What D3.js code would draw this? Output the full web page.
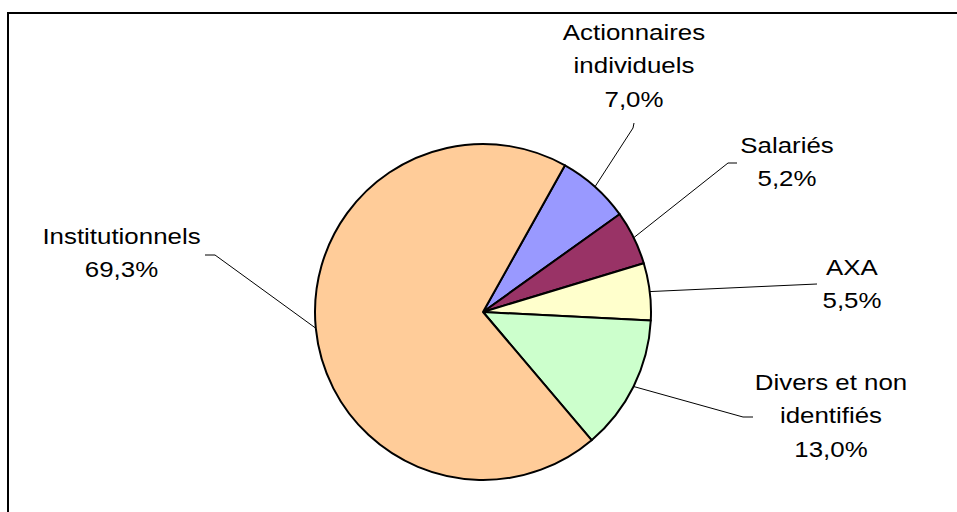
<!DOCTYPE html>
<html>
<head>
<meta charset="utf-8">
<script src="https://cdn.jsdelivr.net/npm/d3@7"></script>
<style>
  html, body { margin: 0; padding: 0; background: #fff; }
  svg { display: block; }
  text { font-family: "Liberation Sans", Arial, sans-serif; fill: #000; }
</style>
</head>
<body>
<div id="chart"></div>
<script>
// ---- data ----
const categories = ["Actionnaires individuels", "Salariés", "AXA", "Divers et non identifiés", "Institutionnels"];
const labelLines = [["Actionnaires", "individuels"], ["Salariés"], ["AXA"], ["Divers et non", "identifiés"], ["Institutionnels"]];
const values = [7.0, 5.2, 5.5, 13.0, 69.3];
const colors = ["#9999FF", "#993366", "#FFFFCC", "#CCFFCC", "#FFCC99"];

// ---- layout ----
const W = 957, H = 512;
const cx = 483, cy = 312, R = 168;
const startDeg = 29.2;
// label block: x center, first baseline; leader elbow points (outer end first)
const labelLayout = [
  { x: 634, y: 40, leader: [[634, 123], [633, 128]] },
  { x: 787, y: 153, leader: [[737, 163], [728, 163]] },
  { x: 852, y: 275, leader: [[817, 284]] },
  { x: 831, y: 390, leader: [[753, 417], [743, 417]] },
  { x: 121.5, y: 244, leader: [[205, 255], [215, 255]] }
];
const lineH = 33.5;
const fontSize = 22.5;
const stretch = 1.15;

const svg = d3.select("#chart").append("svg").attr("width", W).attr("height", H);

// frame
svg.append("rect")
  .attr("x", 8).attr("y", 13).attr("width", 980).attr("height", 560)
  .attr("fill", "none").attr("stroke", "#000").attr("stroke-width", 2);

const data = categories.map((c, i) => ({ name: c, value: values[i], color: colors[i], lines: labelLines[i], layout: labelLayout[i] }));

const a0 = startDeg * Math.PI / 180;
const pie = d3.pie().value(d => d.value).sort(null).startAngle(a0).endAngle(a0 + 2 * Math.PI);
const arcs = pie(data);
const arc = d3.arc().innerRadius(0).outerRadius(R);

const g = svg.append("g").attr("transform", `translate(${cx},${cy})`);
g.selectAll("path.slice").data(arcs).enter().append("path")
  .attr("class", "slice")
  .attr("d", arc)
  .attr("fill", d => d.data.color)
  .attr("stroke", "#000")
  .attr("stroke-width", 2)
  .attr("stroke-linejoin", "round");

// leader lines
const fmt = v => d3.format(".1f")(v).replace(".", ",") + "%";
arcs.forEach(d => {
  const mid = (d.startAngle + d.endAngle) / 2;
  const ex = cx + R * Math.sin(mid), ey = cy - R * Math.cos(mid);
  const pts = d.data.layout.leader.concat([[ex, ey]]);
  svg.append("path")
    .attr("d", d3.line()(pts))
    .attr("fill", "none")
    .attr("stroke", "#000")
    .attr("stroke-width", 1);
});

// labels
arcs.forEach(d => {
  const L = d.data.layout;
  const lines = d.data.lines.concat([fmt(d.data.value)]);
  const t = svg.append("g").attr("transform", `translate(${L.x},${L.y}) scale(${stretch},1)`);
  lines.forEach((s, i) => {
    t.append("text")
      .attr("x", 0).attr("y", i * lineH)
      .attr("text-anchor", "middle")
      .attr("font-size", fontSize)
      .text(s);
  });
});
</script>
</body>
</html>
